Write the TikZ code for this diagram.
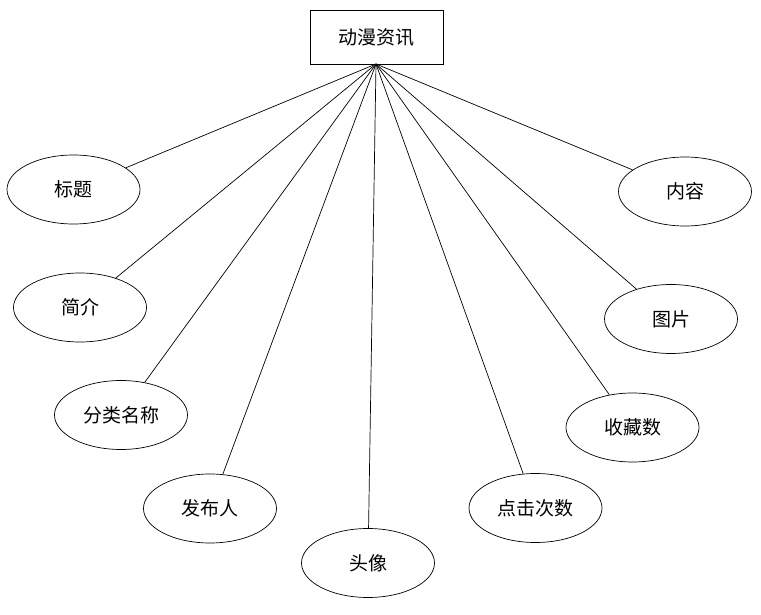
\documentclass[tikz,border=0pt]{standalone}
\usepackage{fontspec}
\newfontfamily\cjk{Noto Sans CJK SC}
\usetikzlibrary{shapes.geometric}
\begin{document}
\begin{tikzpicture}[x=1pt,y=-1pt,
  attr/.style={draw, ellipse, line width=0.7pt, minimum width=133pt, minimum height=69pt, inner sep=0pt, font=\cjk\fontsize{19}{21}\selectfont},
  ent/.style={draw, rectangle, line width=0.9pt, minimum width=133pt, minimum height=54pt, inner sep=0pt, font=\cjk\fontsize{19}{21}\selectfont},
  link/.style={line width=0.7pt}]
\useasboundingbox (0,0) rectangle (761,615);
\node[ent] (main) at (376.5,37) {动漫资讯};
\coordinate (hub) at (376,64);
\node[attr] (a1) at (73.5,189.5) {标题};
\node[attr] (a2) at (80,307.5) {简介};
\node[attr] (a3) at (121,415) {分类名称};
\node[attr] (a4) at (210,508.5) {发布人};
\node[attr] (a5) at (368,563) {头像};
\node[attr] (a6) at (535.5,508) {点击次数};
\node[attr] (a7) at (632.5,427.5) {收藏数};
\node[attr] (a8) at (671,319) {图片};
\node[attr] (a9) at (685,191.5) {内容};
\foreach \n in {a1,a2,a3,a4,a5,a6,a7,a8,a9}
  \draw[link] (hub) -- (\n);
\end{tikzpicture}
\end{document}
